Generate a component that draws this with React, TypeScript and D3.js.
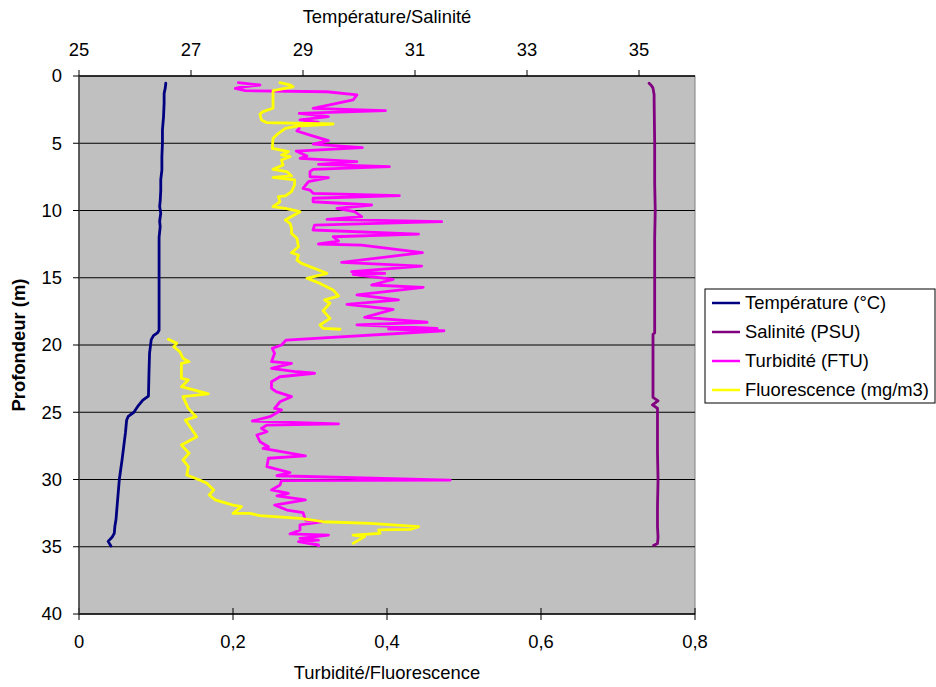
import React from "react";
import * as d3 from "d3";

// profile data: [depth (m), value]
const temperature: [number, number][] = [
  [0.54, 26.55], [0.9, 26.54], [1.3, 26.52], [2.0, 26.52], [3.0, 26.51], [4.0, 26.49],
  [5.0, 26.49], [6.0, 26.48], [7.0, 26.48], [7.7, 26.46], [8.5, 26.46], [9.3, 26.45],
  [9.7, 26.44], [10.2, 26.46], [10.8, 26.44], [11.2, 26.45], [12, 26.43], [14, 26.43],
  [16, 26.43], [18, 26.43], [18.9, 26.43], [19.1, 26.4], [19.3, 26.33], [19.6, 26.29],
  [20.6, 26.26], [22, 26.25], [23.8, 26.24], [24.1, 26.14], [24.5, 26.06], [25.0, 25.98],
  [25.3, 25.88], [25.6, 25.85], [26.5, 25.83], [27.5, 25.8], [28.5, 25.77], [30.0, 25.72],
  [31, 25.7], [32, 25.68], [33, 25.66], [33.5, 25.64], [34.0, 25.63], [34.3, 25.59],
  [34.6, 25.52], [34.95, 25.57],
];

const salinity: [number, number][] = [
  [0.54, 35.18], [0.7, 35.22], [0.9, 35.25], [1.4, 35.27], [1.8, 35.27], [5, 35.28],
  [8, 35.28], [10, 35.29], [12, 35.28], [16, 35.28], [19.1, 35.28], [19.2, 35.25],
  [22, 35.25], [23.9, 35.25], [24.15, 35.34], [24.45, 35.24], [24.7, 35.33], [26, 35.33],
  [28, 35.33], [30, 35.34], [32, 35.33], [33.5, 35.33], [34.3, 35.34], [34.75, 35.33],
  [34.9, 35.26],
];

const turbidity: [number, number][] = [
  [0.5, 0.207], [0.67, 0.235], [0.84, 0.209], [0.92, 0.203], [1.09, 0.216], [1.17, 0.322],
  [1.41, 0.361], [1.78, 0.356], [2.4, 0.304], [2.58, 0.398], [2.78, 0.286], [3.02, 0.324],
  [3.27, 0.287], [3.44, 0.311], [3.57, 0.286], [3.89, 0.286], [4.09, 0.283], [4.39, 0.3],
  [4.81, 0.324], [5.06, 0.304], [5.33, 0.368], [5.58, 0.282], [5.95, 0.296], [6.12, 0.287],
  [6.37, 0.361], [6.57, 0.311], [6.74, 0.403], [6.94, 0.304], [7.11, 0.3], [7.49, 0.3],
  [7.56, 0.324], [7.86, 0.298], [8.35, 0.291], [8.48, 0.3], [8.72, 0.304], [8.9, 0.416],
  [9.09, 0.304], [9.35, 0.304], [9.59, 0.38], [9.84, 0.335], [10.09, 0.358], [10.46, 0.367],
  [10.66, 0.322], [10.83, 0.471], [11.08, 0.306], [11.45, 0.304], [11.75, 0.441], [11.95, 0.33],
  [12.27, 0.337], [12.49, 0.311], [12.57, 0.367], [13.14, 0.446], [13.85, 0.341], [14.13, 0.445],
  [14.55, 0.354], [14.67, 0.397], [14.75, 0.356], [15.12, 0.408], [15.54, 0.38], [15.71, 0.447],
  [16.28, 0.361], [16.65, 0.415], [16.98, 0.348], [17.35, 0.408], [17.94, 0.371], [18.31, 0.452],
  [18.51, 0.361], [18.76, 0.465], [18.81, 0.402], [18.94, 0.474], [19.63, 0.269], [20.0, 0.263],
  [20.25, 0.251], [20.62, 0.254], [21.24, 0.25], [21.36, 0.276], [21.73, 0.25], [21.99, 0.283],
  [22.1, 0.306], [22.36, 0.261], [22.73, 0.25], [23.22, 0.25], [23.47, 0.256], [23.84, 0.276],
  [24.22, 0.261], [24.71, 0.254], [24.83, 0.263], [25.33, 0.248], [25.65, 0.225], [25.87, 0.337],
  [25.95, 0.244], [26.2, 0.237], [26.45, 0.244], [26.69, 0.231], [27.19, 0.235], [27.56, 0.246],
  [27.68, 0.239], [28.25, 0.294], [28.42, 0.246], [29.05, 0.244], [29.49, 0.274], [29.72, 0.257],
  [30.04, 0.482], [30.09, 0.263], [30.41, 0.261], [30.78, 0.25], [31.03, 0.272], [31.21, 0.257],
  [31.52, 0.294], [31.9, 0.254], [32.27, 0.27], [32.47, 0.291], [33.01, 0.294], [33.14, 0.317],
  [33.38, 0.287], [33.75, 0.287], [34.05, 0.274], [34.13, 0.324], [34.37, 0.287], [34.5, 0.311],
  [34.62, 0.285], [34.87, 0.311], [34.94, 0.311],
];

const fluoUpper: [number, number][] = [
  [0.5, 0.261], [0.67, 0.275], [0.8, 0.278], [1.04, 0.257], [1.09, 0.252], [2.4, 0.252],
  [2.65, 0.239], [2.83, 0.235], [3.27, 0.237], [3.47, 0.244], [3.57, 0.33], [3.72, 0.283],
  [3.89, 0.268], [4.26, 0.259], [4.63, 0.252], [5.38, 0.251], [5.5, 0.261], [5.63, 0.272],
  [5.87, 0.263], [6.0, 0.274], [6.25, 0.263], [6.62, 0.265], [6.94, 0.252], [7.11, 0.27],
  [7.43, 0.276], [7.53, 0.252], [7.73, 0.28], [8.1, 0.28], [8.6, 0.276], [8.92, 0.268],
  [8.97, 0.259], [9.35, 0.261], [9.72, 0.252], [9.84, 0.268], [10.09, 0.287], [10.71, 0.268],
  [10.95, 0.274], [11.32, 0.276], [11.7, 0.276], [12.07, 0.283], [12.69, 0.285], [13.14, 0.276],
  [13.31, 0.285], [13.68, 0.283], [13.93, 0.289], [14.67, 0.322], [15.04, 0.296], [15.42, 0.313],
  [15.91, 0.33], [16.36, 0.337], [16.65, 0.319], [16.9, 0.326], [17.45, 0.317], [18.02, 0.326],
  [18.51, 0.313], [18.76, 0.317], [18.83, 0.339],
];

const fluoLower: [number, number][] = [
  [19.58, 0.116], [19.88, 0.127], [20.13, 0.123], [20.5, 0.131], [20.99, 0.135], [21.24, 0.143],
  [21.36, 0.133], [22.48, 0.133], [22.6, 0.142], [23.1, 0.133], [23.64, 0.168], [23.84, 0.135],
  [24.71, 0.142], [25.33, 0.152], [25.58, 0.138], [26.07, 0.144], [26.82, 0.153], [27.43, 0.133],
  [28.05, 0.143], [28.55, 0.135], [29.05, 0.142], [29.67, 0.14], [30.09, 0.159], [30.28, 0.166],
  [30.78, 0.175], [31.15, 0.169], [31.52, 0.177], [31.9, 0.2], [32.02, 0.211], [32.52, 0.2],
  [32.52, 0.222], [32.69, 0.235], [32.89, 0.287], [33.14, 0.317], [33.26, 0.378], [33.51, 0.441],
  [33.71, 0.43], [33.75, 0.389], [34.0, 0.391], [34.13, 0.356], [34.25, 0.371], [34.75, 0.356],
];

const topTicks = [25, 27, 29, 31, 33, 35];
const bottomTicks = [0, 0.2, 0.4, 0.6, 0.8];
const depthTicks = [0, 5, 10, 15, 20, 25, 30, 35, 40];
const legendItems = [
  { label: "Température (°C)", color: "#000080" },
  { label: "Salinité (PSU)", color: "#800080" },
  { label: "Turbidité (FTU)", color: "#FF00FF" },
  { label: "Fluorescence (mg/m3)", color: "#FFFF00" },
];

const W = 936, H = 687;
const left = 79, right = 695, top = 76, bottom = 614;
const FONT = "'Liberation Sans', Arial, sans-serif";
const FS = 18.4;

export default function App() {
  const xTop = d3.scaleLinear().domain([25, 36]).range([left, right]);
  const xBot = d3.scaleLinear().domain([0, 0.8]).range([left, right]);
  const y = d3.scaleLinear().domain([0, 40]).range([top, bottom]);

  const lineTop = d3.line<[number, number]>().x(d => xTop(d[1])).y(d => y(d[0]));
  const lineBot = d3.line<[number, number]>().x(d => xBot(d[1])).y(d => y(d[0]));

  const fmt = (v: number) => (v === 0 ? "0" : String(v).replace(".", ","));

  return (
    <svg width={W} height={H} style={{ position: "absolute", left: 0, top: 0, background: "#fff" }} fontFamily={FONT}>
      {/* plot area */}
      <rect x={left} y={top} width={right - left} height={bottom - top} fill="#C0C0C0" stroke="#808080" strokeWidth={1} />
      {depthTicks.slice(1, -1).map(t => (
        <line key={t} x1={left} x2={right} y1={y(t)} y2={y(t)} stroke="#000" strokeWidth={1} />
      ))}

      {/* series */}
      <g fill="none" strokeWidth={2.8} strokeLinejoin="round" strokeLinecap="round">
        <path d={lineTop(temperature) || ""} stroke="#000080" />
        <path d={lineTop(salinity) || ""} stroke="#800080" />
        <path d={lineBot(turbidity) || ""} stroke="#FF00FF" />
        <path d={lineBot(fluoUpper) || ""} stroke="#FFFF00" />
        <path d={lineBot(fluoLower) || ""} stroke="#FFFF00" />
      </g>

      {/* top axis */}
      <line x1={left} x2={right} y1={top} y2={top} stroke="#000" strokeWidth={1.5} />
      {topTicks.map(t => (
        <g key={t}>
          <line x1={xTop(t)} x2={xTop(t)} y1={top - 6} y2={top} stroke="#000" />
          <text x={xTop(t)} y={56} textAnchor="middle" fontSize={FS}>{t}</text>
        </g>
      ))}
      <text x={(left + right) / 2} y={23} textAnchor="middle" fontSize={FS}>Température/Salinité</text>

      {/* bottom axis */}
      <line x1={left} x2={right} y1={bottom} y2={bottom} stroke="#000" strokeWidth={1.5} />
      {bottomTicks.map(t => (
        <g key={t}>
          <line x1={xBot(t)} x2={xBot(t)} y1={bottom - 6} y2={bottom + 6} stroke="#000" />
          <text x={xBot(t)} y={648} textAnchor="middle" fontSize={FS}>{fmt(t)}</text>
        </g>
      ))}
      <text x={(left + right) / 2} y={679} textAnchor="middle" fontSize={FS}>Turbidité/Fluorescence</text>

      {/* depth axis */}
      <line x1={left} x2={left} y1={top} y2={bottom} stroke="#404040" strokeWidth={1.5} />
      {depthTicks.map(t => (
        <g key={t}>
          <line x1={left - 6} x2={left} y1={y(t)} y2={y(t)} stroke="#000" />
          <text x={62} y={y(t)} dy="0.35em" textAnchor="end" fontSize={FS}>{t}</text>
        </g>
      ))}
      <text transform={`translate(25,${(top + bottom) / 2}) rotate(-90)`} textAnchor="middle" fontSize={FS} fontWeight="bold">
        Profondeur (m)
      </text>

      {/* legend */}
      <rect x={705} y={289} width={230} height={114} fill="#fff" stroke="#000" strokeWidth={1} />
      {legendItems.map((it, i) => (
        <g key={it.label} transform={`translate(0,${303 + i * 29})`}>
          <line x1={712} x2={740} y1={0} y2={0} stroke={it.color} strokeWidth={2.5} />
          <text x={745} y={0} dy="0.35em" fontSize={FS}>{it.label}</text>
        </g>
      ))}
    </svg>
  );
}
